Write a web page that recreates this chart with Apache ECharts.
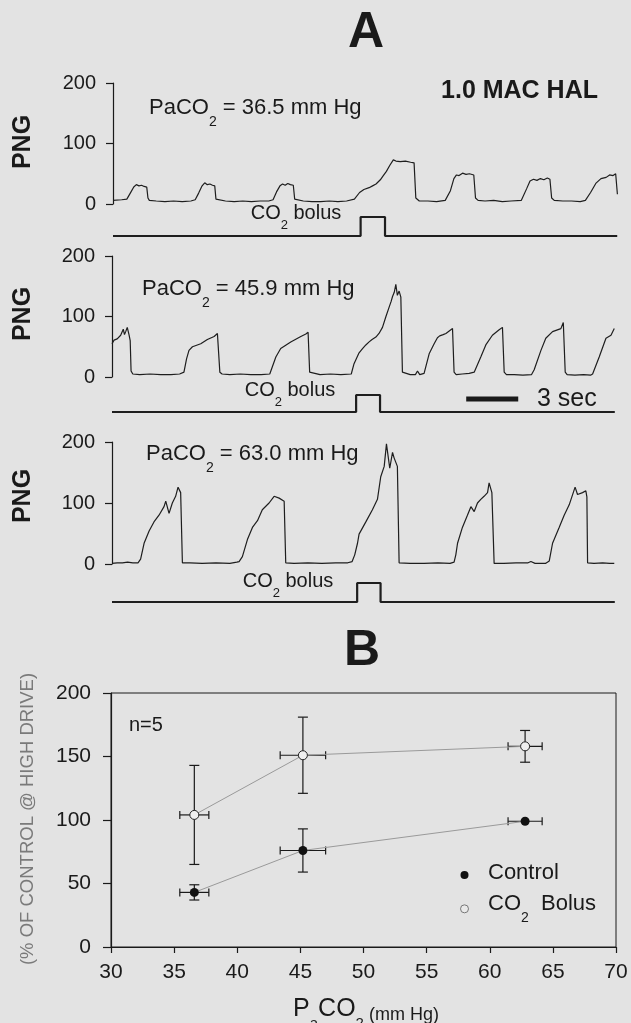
<!DOCTYPE html>
<html><head><meta charset="utf-8">
<script src="https://cdn.jsdelivr.net/npm/echarts@6/dist/echarts.min.js"></script>
<style>html,body{margin:0;padding:0;background:#e3e3e3;}#c{width:631px;height:1023px;}</style>
</head><body><div id="c"></div>
<script>
// ---------- Panel A : PNG traces (time in s, PNG in arbitrary units) ----------
const tA1 = [0,0.5,0.8,1.0,1.2,1.35,1.5,1.65,1.8,1.95,2.02,2.1,2.5,3.0,3.5,4.0,4.5,4.75,4.95,5.15,5.3,5.45,5.6,5.75,5.88,5.95,6.05,6.5,7.0,7.5,8.0,8.5,9.0,9.25,9.45,9.65,9.8,9.95,10.1,10.25,10.42,10.5,10.6,11.0,11.5,12.0,12.5,13.0,13.5,13.95,14.25,14.5,14.8,15.0,15.2,15.45,15.6,15.8,16.0,16.2,16.35,16.6,16.9,17.2,17.4,17.5,17.7,18.2,18.7,19.2,19.5,19.7,19.85,20.0,20.2,20.4,20.6,20.85,20.95,21.1,21.5,22.0,22.5,23.0,23.6,23.9,24.1,24.3,24.5,24.7,24.9,25.1,25.25,25.35,25.5,26.0,26.5,27.0,27.3,27.6,27.9,28.2,28.5,28.7,28.9,29.05,29.15];
const vA1 = [6,7,8,18,28,32,30,31,29,28,10,6,5,4,5,4,5,7,18,30,35,32,33,31,30,8,5,5,4,5,4,5,5,7,20,30,33,31,34,32,31,8,5,5,4,4,5,4,5,8,19,24,27,30,33,40,46,54,64,73,71,70,71,69,68,10,5,5,4,6,22,42,48,47,51,49,50,48,10,6,5,6,4,5,6,25,38,41,39,42,40,43,41,10,6,5,5,4,6,19,34,42,44,48,47,50,16];

const tA2 = [0,0.12,0.3,0.5,0.65,0.72,0.79,0.88,0.98,1.05,1.1,1.2,1.6,2.2,2.8,3.4,3.9,4.15,4.3,4.44,4.64,5.12,5.5,5.89,6.08,6.17,6.22,6.35,6.8,7.4,8.0,8.6,9.1,9.16,9.45,9.73,10.31,10.89,11.18,11.31,11.4,11.5,12.0,12.6,13.2,13.8,13.96,14.25,14.45,14.64,14.83,15.0,15.22,15.4,15.6,15.8,15.98,16.1,16.18,16.28,16.37,16.46,16.56,16.66,16.75,16.85,17.2,17.5,17.62,17.75,18.0,18.3,18.58,18.77,18.9,19.1,19.26,19.45,19.64,19.73,19.85,20.2,20.6,20.89,21.27,21.56,21.94,22.33,22.52,22.62,22.75,23.2,23.7,24.2,24.35,24.74,25.02,25.41,25.89,26.03,26.14,26.25,26.7,27.2,27.6,27.72,28.1,28.49,28.78,28.97];
const vA2 = [55,61,63,69,79,70,75,82,70,60,10,5,4,5,4,4,5,8,30,44,50,55,62,67,72,70,8,5,4,5,4,4,5,6,33,47,58,67,71,74,8,5,4,5,4,5,22,40,47,53,58,62,66,72,82,100,115,125,133,140,153,135,142,132,8,5,4,4,10,4,6,39,55,65,68,70,72,76,80,8,4,5,6,8,33,53,69,78,82,8,4,4,3,4,12,44,64,75,80,90,8,4,3,4,3,5,33,64,69,80];

const tA3 = [0,0.3,0.6,0.9,1.2,1.5,1.65,1.85,2.14,2.42,2.71,3.0,3.1,3.29,3.48,3.67,3.81,3.96,4.06,4.5,5.2,6.0,6.8,7.2,7.33,7.52,7.81,8.1,8.39,8.67,9.06,9.35,9.64,9.93,10.02,10.5,11.3,12.1,12.9,13.6,13.85,14.0,14.16,14.25,14.64,15.02,15.31,15.5,15.7,15.83,16.02,16.18,16.27,16.46,16.56,17.2,18.0,18.8,19.5,19.73,19.83,19.93,20.21,20.5,20.7,20.89,21.08,21.27,21.46,21.66,21.75,21.91,22.04,22.6,23.3,24.0,24.16,24.4,25.0,25.22,25.41,25.79,26.08,26.37,26.71,26.85,27.14,27.33,27.39,27.43,27.8,28.3,28.7,28.97];
const vA3 = [1,2,2,3,2,2,8,34,54,69,80,94,103,83,100,111,126,117,2,2,1,2,1,3,4,12,40,60,71,89,100,111,108,103,2,1,2,1,2,2,4,15,34,49,69,89,106,143,160,197,157,183,174,160,2,1,1,2,1,3,15,34,60,80,94,86,100,106,111,117,133,117,1,1,2,2,4,1,1,5,34,60,80,97,126,114,117,120,110,2,1,2,1,1];

// CO2 bolus markers (0 = off, 1 = on)
const tB1 = [0,14.31,14.31,15.72,15.72,29.14];
const tB2 = [0,14.08,14.08,15.46,15.46,29.0];
const tB3 = [0,14.14,14.14,15.49,15.49,29.0];
const vB  = [0,0,1,1,0,0];
const scaleBarStart = 20.43, scaleBarLen = 3; // 3 sec
const pngTicks = [0, 200, 100];               // min, max, interval
const timeMax = 29.3;

// ---------- Panel B ----------
const paco2   = [36.6, 45.2, 62.8];
const paco2Err= [1.15, 1.8, 1.35];
const ctrlY   = [43, 76, 99];
const ctrlErr = [6, 17, 0];
const bolY    = [104, 151, 158];
const bolErr  = [39, 30, 12.5];
const xTicksB = [30, 70, 5];
const yTicksB = [0, 200, 50];

const FF = 'Liberation Sans, Arial, Helvetica, sans-serif';
const INK = '#1a1a1a';
const zip = (t, v) => t.map((x, i) => [x, v[i]]);

function mkRich(f, fs, color, weight) {
  const L = Math.round(f * 1.2);
  const base = L / 2 + 0.34 * f;
  const pt = base + 0.3 * fs - fs / 2;
  return {
    m: {fontSize: f, lineHeight: L, verticalAlign: 'top', fontFamily: FF, color: color, fill: color, fontWeight: weight || 'normal'},
    s: {fontSize: fs, verticalAlign: 'top', padding: [pt, 0, 0, 0], fontFamily: FF, color: color, fill: color, fontWeight: weight || 'normal'},
    L: L
  };
}
function richText(text, x, y, f, fs, align, extra) {
  const r = mkRich(f, fs, INK);
  const L = r.L; delete r.L;
  return Object.assign({type: 'text', x: x, y: y - L / 2, silent: true,
    style: {text: text, rich: r, align: align, textAlign: align, verticalAlign: 'top', textVerticalAlign: 'top', fill: INK}}, extra || {});
}
function plainText(text, x, y, font, align, color, rot) {
  const o = {type: 'text', x: x, y: y, silent: true,
    style: {text: text, font: font, fill: color || INK, align: align, textAlign: align, verticalAlign: 'middle', textVerticalAlign: 'middle'}};
  if (rot) o.rotation = rot;
  return o;
}

const gridsA = [
  {left: 113, top: 83,  width: 507, height: 121},
  {left: 113, top: 217, width: 507, height: 19},
  {left: 112, top: 256, width: 508, height: 121},
  {left: 112, top: 395, width: 508, height: 17},
  {left: 112, top: 442, width: 508, height: 122},
  {left: 112, top: 583, width: 508, height: 19}
];
const grids = gridsA.concat([{left: 111, top: 693, width: 505, height: 254, show: true,
  borderColor: INK, borderWidth: 1, backgroundColor: 'transparent'}]);

const xAxes = [], yAxes = [];
for (let i = 0; i < 6; i++) {
  xAxes.push({gridIndex: i, type: 'value', min: 0, max: timeMax, show: false});
  if (i % 2 === 0) {
    yAxes.push({gridIndex: i, type: 'value', min: pngTicks[0], max: pngTicks[1], interval: pngTicks[2],
      axisLine: {show: true, lineStyle: {color: INK, width: 1.2}},
      axisTick: {show: true, length: 7, lineStyle: {color: INK, width: 1.2}},
      axisLabel: {fontSize: 20, fontFamily: FF, color: INK, margin: 17},
      splitLine: {show: false}});
  } else {
    yAxes.push({gridIndex: i, type: 'value', min: 0, max: 1, show: false});
  }
}
xAxes.push({gridIndex: 6, type: 'value', min: xTicksB[0], max: xTicksB[1], interval: xTicksB[2],
  axisLine: {show: true, lineStyle: {color: INK, width: 1.2}},
  axisTick: {show: true, length: 6, lineStyle: {color: INK, width: 1.2}},
  axisLabel: {fontSize: 21, fontFamily: FF, color: INK, margin: 15},
  splitLine: {show: false}});
yAxes.push({gridIndex: 6, type: 'value', min: yTicksB[0], max: yTicksB[1], interval: yTicksB[2],
  axisLine: {show: true, lineStyle: {color: INK, width: 1.2}},
  axisTick: {show: true, length: 8, lineStyle: {color: INK, width: 1.2}},
  axisLabel: {fontSize: 21, fontFamily: FF, color: INK, margin: 20},
  splitLine: {show: false}});

function trace(idx, t, v) {
  return {type: 'line', xAxisIndex: idx, yAxisIndex: idx, data: zip(t, v), symbol: 'none',
    lineStyle: {color: '#1e1e1e', width: 1.2}, silent: true, clip: false};
}
function bolus(idx, t) {
  return {type: 'line', xAxisIndex: idx, yAxisIndex: idx, data: zip(t, vB), symbol: 'none',
    lineStyle: {color: '#1e1e1e', width: 2.2}, silent: true, clip: false};
}
function errRender(params, api) {
  const x = api.value(0), y = api.value(1), ex = api.value(2), ey = api.value(3);
  const c = api.coord([x, y]);
  const l = api.coord([x - ex, y]), r = api.coord([x + ex, y]);
  const st = {stroke: '#1a1a1a', lineWidth: 1.2};
  const ch = [
    {type: 'line', shape: {x1: l[0], y1: c[1], x2: r[0], y2: c[1]}, style: st},
    {type: 'line', shape: {x1: l[0], y1: c[1] - 4, x2: l[0], y2: c[1] + 4}, style: st},
    {type: 'line', shape: {x1: r[0], y1: c[1] - 4, x2: r[0], y2: c[1] + 4}, style: st}
  ];
  if (ey > 0) {
    const tp = api.coord([x, y + ey]), bt = api.coord([x, y - ey]);
    ch.push({type: 'line', shape: {x1: c[0], y1: tp[1], x2: c[0], y2: bt[1]}, style: st});
    ch.push({type: 'line', shape: {x1: c[0] - 5, y1: tp[1], x2: c[0] + 5, y2: tp[1]}, style: st});
    ch.push({type: 'line', shape: {x1: c[0] - 5, y1: bt[1], x2: c[0] + 5, y2: bt[1]}, style: st});
  }
  return {type: 'group', children: ch};
}
const errData = (ys, eys) => paco2.map((x, i) => [x, ys[i], paco2Err[i], eys[i]]);

const legRich = mkRich(22, 14, INK); delete legRich.L;

const option = {
  backgroundColor: '#e3e3e3',
  animation: false,
  grid: grids,
  xAxis: xAxes,
  yAxis: yAxes,
  legend: {
    orient: 'vertical', left: 455, top: 857, itemWidth: 25, itemHeight: 8, itemGap: 9,
    icon: 'circle', selectedMode: false,
    data: [
      {name: 'Control', itemStyle: {color: '#111', borderWidth: 0}},
      {name: 'CO2 Bolus', itemStyle: {color: '#e9e9e9', borderColor: '#777', borderWidth: 1}}
    ],
    formatter: n => n === 'Control' ? '{m|Control}' : '{m|CO}{s|2}{m|  Bolus}',
    textStyle: {rich: legRich, padding: [0, 0, 0, 6]}
  },
  series: [
    trace(0, tA1, vA1), bolus(1, tB1),
    trace(2, tA2, vA2), bolus(3, tB2),
    trace(4, tA3, vA3), bolus(5, tB3),
    {type: 'line', xAxisIndex: 3, yAxisIndex: 3, symbol: 'none', clip: false, silent: true,
      data: [[scaleBarStart, 0.76], [scaleBarStart + scaleBarLen, 0.76]],
      lineStyle: {color: '#1a1a1a', width: 5}},
    {type: 'custom', xAxisIndex: 6, yAxisIndex: 6, renderItem: errRender, data: errData(ctrlY, ctrlErr), z: 2, silent: true},
    {type: 'custom', xAxisIndex: 6, yAxisIndex: 6, renderItem: errRender, data: errData(bolY, bolErr), z: 2, silent: true},
    {name: 'Control', type: 'line', xAxisIndex: 6, yAxisIndex: 6, data: zip(paco2, ctrlY), z: 3,
      symbol: 'circle', symbolSize: 9, showSymbol: true, silent: true,
      lineStyle: {color: '#9a9a9a', width: 1}, itemStyle: {color: '#111'}},
    {name: 'CO2 Bolus', type: 'line', xAxisIndex: 6, yAxisIndex: 6, data: zip(paco2, bolY), z: 3,
      symbol: 'circle', symbolSize: 9, showSymbol: true, silent: true,
      lineStyle: {color: '#9a9a9a', width: 1}, itemStyle: {color: '#efefef', borderColor: '#222', borderWidth: 1}}
  ],
  graphic: [
    plainText('A', 366, 33, 'bold 50px ' + FF, 'center'),
    plainText('B', 362, 651, 'bold 50px ' + FF, 'center'),
    plainText('PNG', 23, 142, 'bold 25px ' + FF, 'center', INK, Math.PI / 2),
    plainText('PNG', 23, 314, 'bold 25px ' + FF, 'center', INK, Math.PI / 2),
    plainText('PNG', 23, 496, 'bold 25px ' + FF, 'center', INK, Math.PI / 2),
    plainText('1.0 MAC HAL', 598, 91, 'bold 25px ' + FF, 'right'),
    richText('{m|PaCO}{s|2}{m| = 36.5 mm Hg}', 149, 110, 22, 14, 'left'),
    richText('{m|PaCO}{s|2}{m| = 45.9 mm Hg}', 142, 291, 22, 14, 'left'),
    richText('{m|PaCO}{s|2}{m| = 63.0 mm Hg}', 146, 456, 22, 14, 'left'),
    richText('{m|CO}{s|2}{m| bolus}', 296, 215, 20, 13, 'center'),
    richText('{m|CO}{s|2}{m| bolus}', 290, 392, 20, 13, 'center'),
    richText('{m|CO}{s|2}{m| bolus}', 288, 583, 20, 13, 'center'),
    plainText('3 sec', 537, 399, '25px ' + FF, 'left'),
    plainText('n=5', 129, 725, '20px ' + FF, 'left'),
    plainText('(% OF CONTROL @ HIGH DRIVE)', 28, 819, '18.5px ' + FF, 'center', '#7a7a7a', Math.PI / 2),
    {type: 'text', x: 366, y: 997, silent: true, style: {
      text: '{p|P}{s|a}{p|CO}{s|2}{u| (mm Hg)}', align: 'center', textAlign: 'center', verticalAlign: 'top', textVerticalAlign: 'top',
      rich: {
        p: {fontSize: 25, lineHeight: 30, verticalAlign: 'top', fontFamily: FF, color: INK, fill: INK},
        s: {fontSize: 15, verticalAlign: 'top', padding: [19, 0, 0, 0], fontFamily: FF, color: INK, fill: INK},
        u: {fontSize: 18, verticalAlign: 'top', padding: [9, 0, 0, 0], fontFamily: FF, color: INK, fill: INK}
      }}}
  ]
};
const chart = echarts.init(document.getElementById('c'), null, {renderer: 'canvas'});
chart.setOption(option);
</script></body></html>
